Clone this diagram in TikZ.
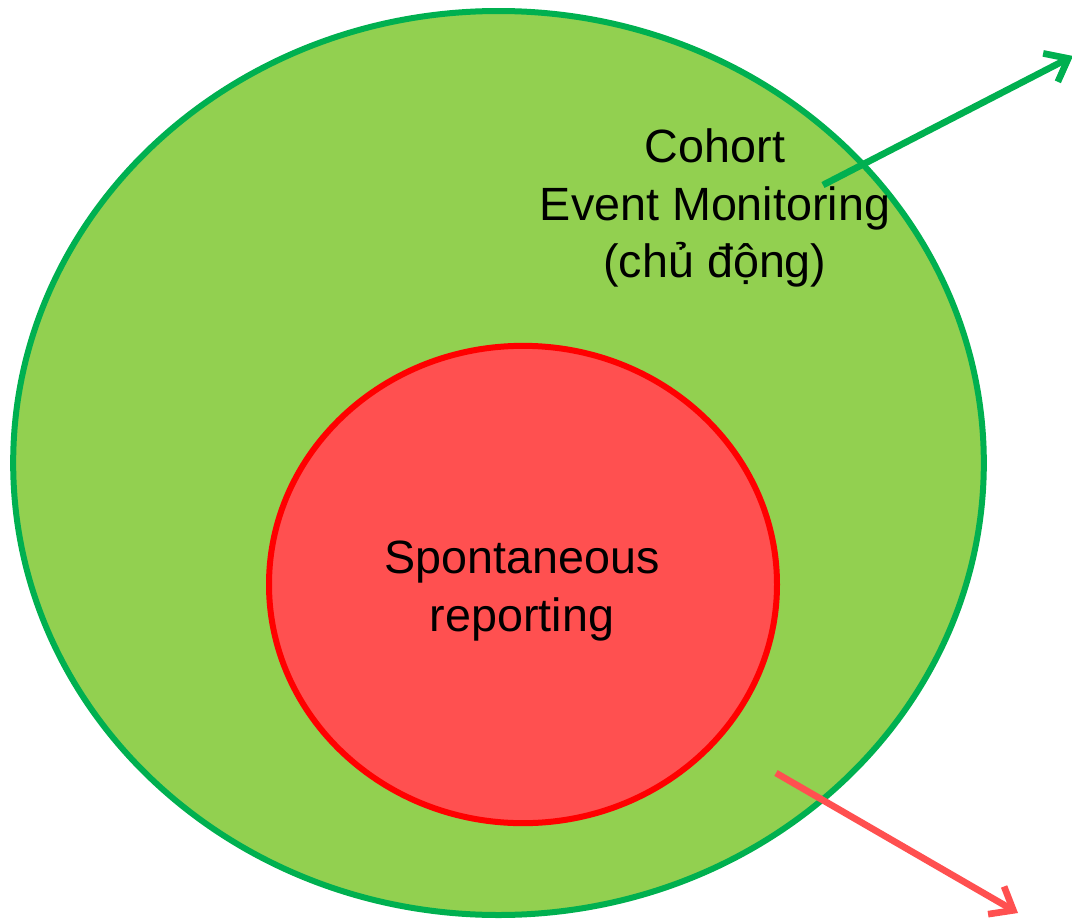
\documentclass[tikz,border=0pt]{standalone}
\usepackage{fontspec}
\setmainfont{Liberation Sans}
\usepackage{xcolor}
\usetikzlibrary{shapes.geometric,arrows.meta}
\definecolor{cemfill}{HTML}{92D050}
\definecolor{cemline}{HTML}{00B050}
\definecolor{srfill}{HTML}{FF5050}
\definecolor{srline}{HTML}{FF0000}

\begin{document}
\begin{tikzpicture}[x=0.75pt, y=-0.75pt,
    oval/.style={draw, ellipse, inner sep=0pt, line width=4.5pt},
    outeroval/.style={oval, draw=cemline, fill=cemfill, minimum width=728pt, minimum height=678pt},
    inneroval/.style={oval, draw=srline, fill=srfill, minimum width=381pt, minimum height=358pt},
    lbl/.style={align=center, font=\fontsize{35}{43}\selectfont},
    arr/.style={-{Straight Barb[length=15pt, width=24pt]}, line width=5pt},
]
\useasboundingbox (0,0) rectangle (1072,921);

% Ovals
\node[outeroval] (cem) at (498.5,463) {};
\node[inneroval] (sr) at (523,584.5) {};

% Labels
\node[lbl] (cemlbl) at (715,208) {Cohort\\Event Monitoring\\(chủ động)};
\node[lbl] (srlbl) at (522,591) {Spontaneous\\reporting};

% Arrows
\coordinate (gstart) at (823,185);
\coordinate (gend) at (1073,56);
\coordinate (rstart) at (776,773);
\coordinate (rend) at (1018,913);
\draw[arr, cemline] (gstart) -- (gend);
\draw[arr, srfill] (rstart) -- (rend);
\end{tikzpicture}
\end{document}
